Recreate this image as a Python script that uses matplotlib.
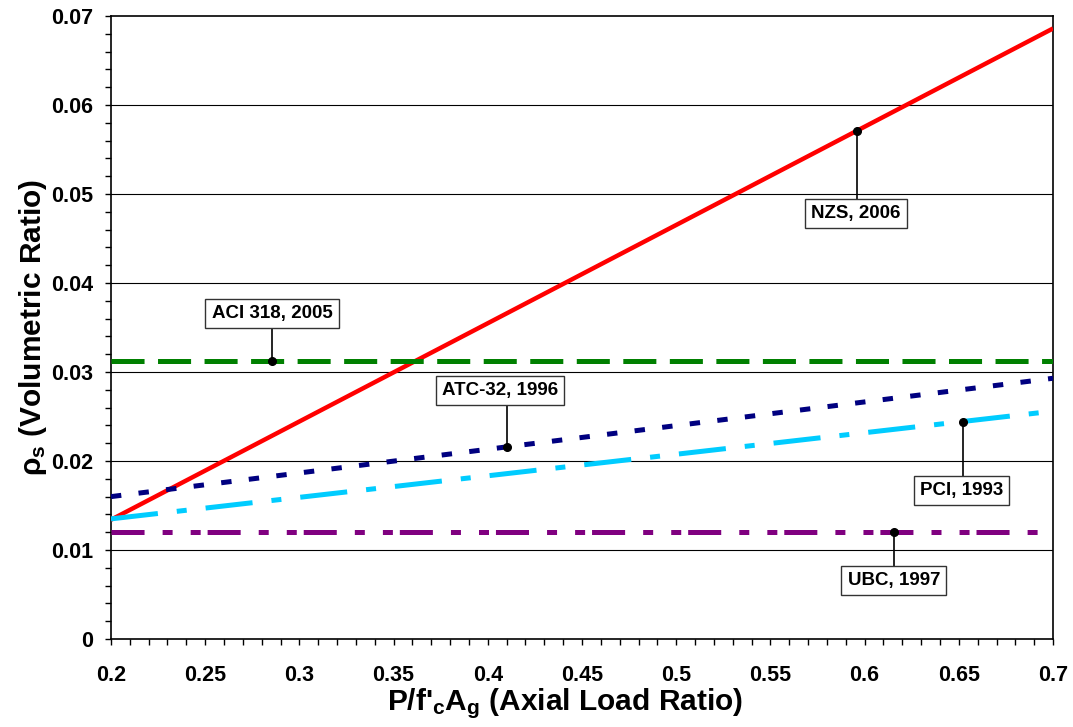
import numpy as np
import matplotlib
matplotlib.use("Agg")
import matplotlib.pyplot as plt
from matplotlib.ticker import MultipleLocator, FixedLocator, FixedFormatter

plt.rcParams['font.family'] = ['Liberation Sans', 'DejaVu Sans']
plt.rcParams['font.weight'] = 'bold'
plt.rcParams['mathtext.fontset'] = 'custom'
plt.rcParams['mathtext.rm'] = 'Liberation Sans:bold'
plt.rcParams['mathtext.it'] = 'Liberation Sans:bold'
plt.rcParams['mathtext.bf'] = 'Liberation Sans:bold'
plt.rcParams['lines.scale_dashes'] = False

# Axial load ratio P/f'cAg at the ends of each design curve
load_ratio = [0.2, 0.7]

# Volumetric confinement ratio for each code provision
rho_nzs = [0.0134, 0.0686]
rho_aci = [0.0312, 0.0312]
rho_atc = [0.0160, 0.0293]
rho_pci = [0.0135, 0.0256]
rho_ubc = [0.0120, 0.0120]

labels = ["NZS, 2006", "ACI 318, 2005", "ATC-32, 1996", "PCI, 1993", "UBC, 1997"]

# Load ratio at which each callout points onto its curve
callout_x = [0.596, 0.2855, 0.41, 0.652, 0.6155]

x_ticks = [0.2, 0.25, 0.3, 0.35, 0.4, 0.45, 0.5, 0.55, 0.6, 0.65, 0.7]
x_tick_labels = ["0.2", "0.25", "0.3", "0.35", "0.4", "0.45", "0.5", "0.55", "0.6", "0.65", "0.7"]
y_ticks = [0, 0.01, 0.02, 0.03, 0.04, 0.05, 0.06, 0.07]
y_tick_labels = ["0", "0.01", "0.02", "0.03", "0.04", "0.05", "0.06", "0.07"]

fig = plt.figure(figsize=(10.73, 7.27), dpi=100)
ax = fig.add_axes([0.1034, 0.121, 0.8780, 0.857])

ax.set_xlim(0.2, 0.7)
ax.set_ylim(0, 0.07)

# horizontal gridlines at major y ticks
for yv in y_ticks[1:-1]:
    ax.axhline(yv, color='black', lw=0.8, zorder=1)

series = [
    (rho_nzs, dict(color='#FF0000', lw=3.2, solid_capstyle='butt')),
    (rho_aci, dict(color='#008000', lw=3.6, dashes=(23.8, 9.7), dash_capstyle='butt')),
    (rho_atc, dict(color='#000080', lw=3.6, dashes=(7.5, 12.5), dash_capstyle='butt')),
    (rho_pci, dict(color='#00CCFF', lw=3.6, dashes=(34, 13.7, 7.2, 13.7), dash_capstyle='butt')),
    (rho_ubc, dict(color='#800080', lw=3.6, dashes=(23.8, 13, 7.2, 13, 7.2, 5), dash_capstyle='butt')),
]
for rho, style in series:
    ax.plot(load_ratio, rho, zorder=3, **style)

# callout boxes: (series values, box centre in data units)
callout_boxes = [
    (rho_nzs, (0.5955, 0.0478)),
    (rho_aci, (0.2855, 0.0366)),
    (rho_atc, (0.4065, 0.0279)),
    (rho_pci, (0.6515, 0.0167)),
    (rho_ubc, (0.6155, 0.0066)),
]
for lbl, cx, (rho, box_xy) in zip(labels, callout_x, callout_boxes):
    cy = np.interp(cx, load_ratio, rho)
    # vertical leader from the curve to the label box
    ax.plot([cx, cx], [cy, box_xy[1]], color='black', lw=1.2, zorder=4)
    ax.plot([cx], [cy], 'o', color='black', ms=5.5, zorder=5)
    ax.text(box_xy[0], box_xy[1], lbl,
            ha='center', va='center', fontsize=13.5, fontweight='bold',
            bbox=dict(boxstyle='square,pad=0.33', fc='white', ec='#333333', lw=1.0),
            zorder=6)

ax.xaxis.set_major_locator(FixedLocator(x_ticks))
ax.xaxis.set_major_formatter(FixedFormatter(x_tick_labels))
ax.yaxis.set_major_locator(FixedLocator(y_ticks))
ax.yaxis.set_major_formatter(FixedFormatter(y_tick_labels))
ax.xaxis.set_minor_locator(MultipleLocator(0.01))
ax.yaxis.set_minor_locator(MultipleLocator(0.002))

ax.tick_params(axis='both', which='both', direction='out', length=4.5, width=1.0,
               top=False, right=False)
ax.tick_params(axis='x', which='major', pad=14, labelsize=15.5)
ax.tick_params(axis='y', which='major', pad=8.5, labelsize=15.5)
for t in ax.get_xticklabels() + ax.get_yticklabels():
    t.set_fontweight('bold')

for sp in ax.spines.values():
    sp.set_linewidth(1.2)
    sp.set_color('black')

ax.set_xlabel("P/f'$_\\mathregular{c}$A$_\\mathregular{g}$ (Axial Load Ratio)",
              fontsize=21.5, fontweight='bold')
ax.set_ylabel("ρ$_\\mathregular{s}$ (Volumetric Ratio)", fontsize=21.5, fontweight='bold')
ax.xaxis.set_label_coords(0.482, -0.076)
ax.yaxis.set_label_coords(-0.066, 0.5)

fig.savefig("out.png", dpi=100, facecolor='white')
